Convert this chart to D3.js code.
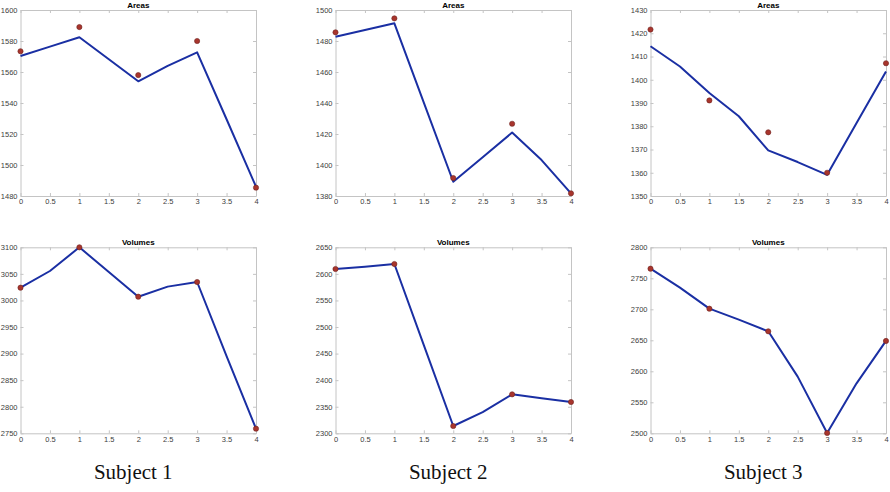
<!DOCTYPE html>
<html>
<head>
<meta charset="utf-8">
<script src="https://cdn.jsdelivr.net/npm/d3@7"></script>
<style>
  body { margin: 0; background: #fff; }
  .tick text { font-family: "Liberation Sans", Arial, sans-serif; font-size: 7.5px; fill: #404040; }
  .domain { stroke: #c4c4c4; }
  .tick line { stroke: #c4c4c4; }
  .title { font-family: "Liberation Sans", Arial, sans-serif; font-size: 8px; font-weight: bold; fill: #000; }
  .subject { font-family: "Liberation Serif", "DejaVu Serif", serif; font-size: 21px; fill: #111; }
</style>
</head>
<body>
<svg id="chart" width="890" height="492"></svg>
<script>
// observations per subject, at x = 0..4
var subjects = ["Subject 1", "Subject 2", "Subject 3"];
var obsX = [0, 1, 2, 3, 4];

var areaObs = [
    [1573.4, 1589.0, 1558.0, 1580.0, 1485.4],
    [1485.6, 1494.6, 1391.6, 1426.6, 1381.7],
    [1421.6, 1391.1, 1377.4, 1360.0, 1407.1]
];
var volumeObs = [
    [3024.0, 3100.0, 3007.0, 3034.7, 2758.7],
    [2609.2, 2618.6, 2313.7, 2373.3, 2358.9],
    [2765.5, 2701.0, 2664.5, 2500.5, 2649.0]
];

// fitted curves every half step
var fitX = [0, 0.5, 1, 1.5, 2, 2.5, 3, 3.5, 4];
var areaFit = [
    [1570.3, 1576.4, 1582.4, 1568.2, 1554.0, 1564.0, 1572.7, 1529.5, 1486.0],
    [1482.8, 1487.1, 1491.4, 1440.3, 1389.2, 1405.0, 1420.9, 1403.2, 1381.7],
    [1414.4, 1405.7, 1394.3, 1384.3, 1369.6, 1364.6, 1359.1, 1381.4, 1403.6]
];
var volumeFit = [
    [3024.0, 3055.4, 3100.0, 3053.5, 3007.0, 3026.0, 3034.7, 2895.0, 2758.7],
    [2609.2, 2613.5, 2618.6, 2466.0, 2313.7, 2340.0, 2373.3, 2365.8, 2358.9],
    [2765.5, 2734.9, 2701.0, 2683.3, 2664.5, 2591.4, 2500.5, 2580.6, 2649.0]
];

// axis ranges and tick labels
var xTicks = [0, 0.5, 1, 1.5, 2, 2.5, 3, 3.5, 4];
var areaTicks = [
    [1480, 1500, 1520, 1540, 1560, 1580, 1600],
    [1380, 1400, 1420, 1440, 1460, 1480, 1500],
    [1350, 1360, 1370, 1380, 1390, 1400, 1410, 1420, 1430]
];
var volumeTicks = [
    [2750, 2800, 2850, 2900, 2950, 3000, 3050, 3100],
    [2300, 2350, 2400, 2450, 2500, 2550, 2600, 2650],
    [2500, 2550, 2600, 2650, 2700, 2750, 2800]
];


var svg = d3.select("#chart");
var plotW = 235.5, plotH = 186;
var colLeft = [20.5, 335.5, 650.5];
var rowTop = [10, 247.3];


function drawPanel(left, top, title, ticks, obs, fit) {
    var x = d3.scaleLinear().domain([0, 4]).range([0, plotW]);
    var y = d3.scaleLinear().domain(d3.extent(ticks)).range([plotH, 0]);

    var g = svg.append("g").attr("transform", `translate(${left},${top})`);

    g.append("g")
        .attr("transform", `translate(0,${plotH})`)
        .call(d3.axisBottom(x).tickValues(xTicks).tickFormat(d3.format("")).tickSizeInner(-3).tickSizeOuter(0).tickPadding(3));
    g.append("g")
        .call(d3.axisTop(x).tickValues(xTicks).tickFormat("").tickSizeInner(-3).tickSizeOuter(0));
    g.append("g")
        .call(d3.axisLeft(y).tickValues(ticks).tickFormat(d3.format("")).tickSizeInner(-3).tickSizeOuter(0).tickPadding(3));
    g.append("g")
        .attr("transform", `translate(${plotW},0)`)
        .call(d3.axisRight(y).tickValues(ticks).tickFormat("").tickSizeInner(-3).tickSizeOuter(0));

    var line = d3.line()
        .x((d, i) => x(fitX[i]))
        .y(d => y(d));

    g.append("path")
        .datum(fit)
        .attr("d", line)
        .attr("fill", "none")
        .attr("stroke", "#1a2fa3")
        .attr("stroke-width", 2)
        .attr("stroke-linejoin", "round");

    g.selectAll("circle")
        .data(obs)
        .join("circle")
        .attr("cx", (d, i) => x(obsX[i]))
        .attr("cy", d => y(d))
        .attr("r", 2.6)
        .attr("fill", "#a8352d")
        .attr("stroke", "#6e2420")
        .attr("stroke-width", 0.6);

    g.append("text")
        .attr("class", "title")
        .attr("x", plotW / 2)
        .attr("y", -2.5)
        .attr("text-anchor", "middle")
        .text(title);
}


for (var s = 0; s < subjects.length; s++) {
    drawPanel(colLeft[s], rowTop[0], "Areas", areaTicks[s], areaObs[s], areaFit[s]);
    drawPanel(colLeft[s], rowTop[1], "Volumes", volumeTicks[s], volumeObs[s], volumeFit[s]);

    svg.append("text")
        .attr("class", "subject")
        .attr("x", colLeft[s] + plotW / 2 - 5)
        .attr("y", 479)
        .attr("text-anchor", "middle")
        .text(subjects[s]);
}
</script>
</body>
</html>
